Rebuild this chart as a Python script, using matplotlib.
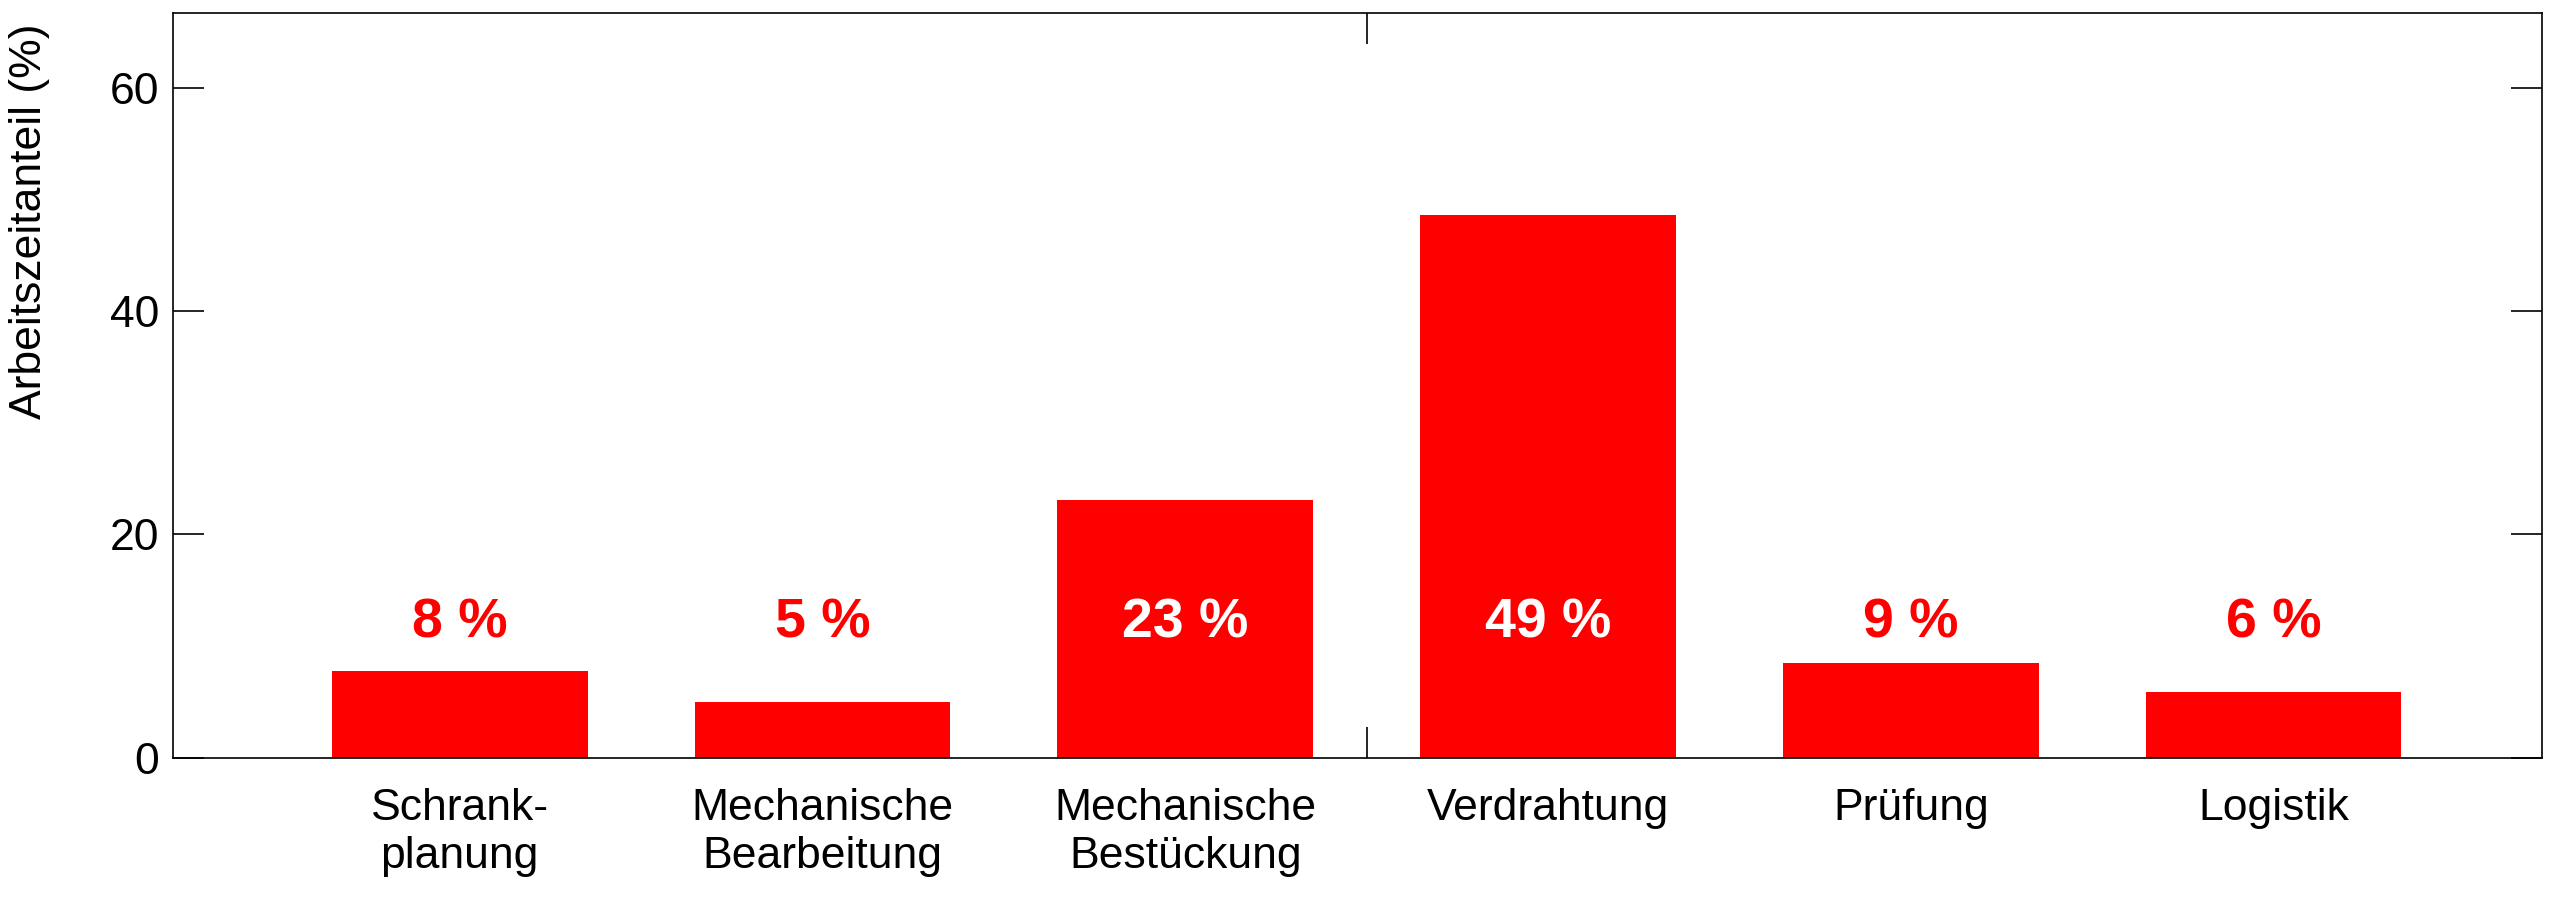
import matplotlib
matplotlib.use("Agg")
import matplotlib.pyplot as plt

categories = ["Schrank-\nplanung", "Mechanische\nBearbeitung", "Mechanische\nBestückung",
              "Verdrahtung", "Prüfung", "Logistik"]
values = [7.8, 5.0, 23.1, 48.6, 8.5, 5.9]
labels = ["8 %", "5 %", "23 %", "49 %", "9 %", "6 %"]
inside = [False, False, True, True, False, False]
yticks = [0, 20, 40, 60]

plt.rcParams['font.family'] = ['Liberation Sans', 'DejaVu Sans']
fig = plt.figure(figsize=(25.6, 9.23), dpi=100)
ax = fig.add_axes([0.0676, 0.179, 0.9254, 0.807])
x = list(range(len(categories)))
ax.bar(x, values, width=0.705, color="#ff0000")
for xi, lab, ins in zip(x, labels, inside):
    ax.text(xi, 12, lab, ha="center", va="center", fontsize=40, fontweight="bold",
            color="white" if ins else "#ff0000")
ax.set_xlim(-0.79, 5.74)
ax.set_ylim(0, 66.7)
ax.set_yticks(yticks)
ax.set_yticklabels([str(v) for v in yticks], fontsize=32)
ax.set_xticks(x)
ax.set_xticklabels(categories, fontsize=32, linespacing=1.2)
ax.tick_params(axis="x", length=0, pad=22)
ax.set_xticks([2.5], minor=True)
ax.tick_params(axis="x", which="minor", direction="in", length=22, top=True, bottom=True, width=1.2)
ax.tick_params(axis="y", direction="in", length=22, right=True, width=1.2, pad=10)
for s in ax.spines.values():
    s.set_linewidth(1.2)
ax.set_ylabel("Arbeitszeitanteil (%)", fontsize=32, labelpad=14)
ax.yaxis.set_label_coords(-0.052, 0.72)
fig.savefig("out.png", dpi=100)
